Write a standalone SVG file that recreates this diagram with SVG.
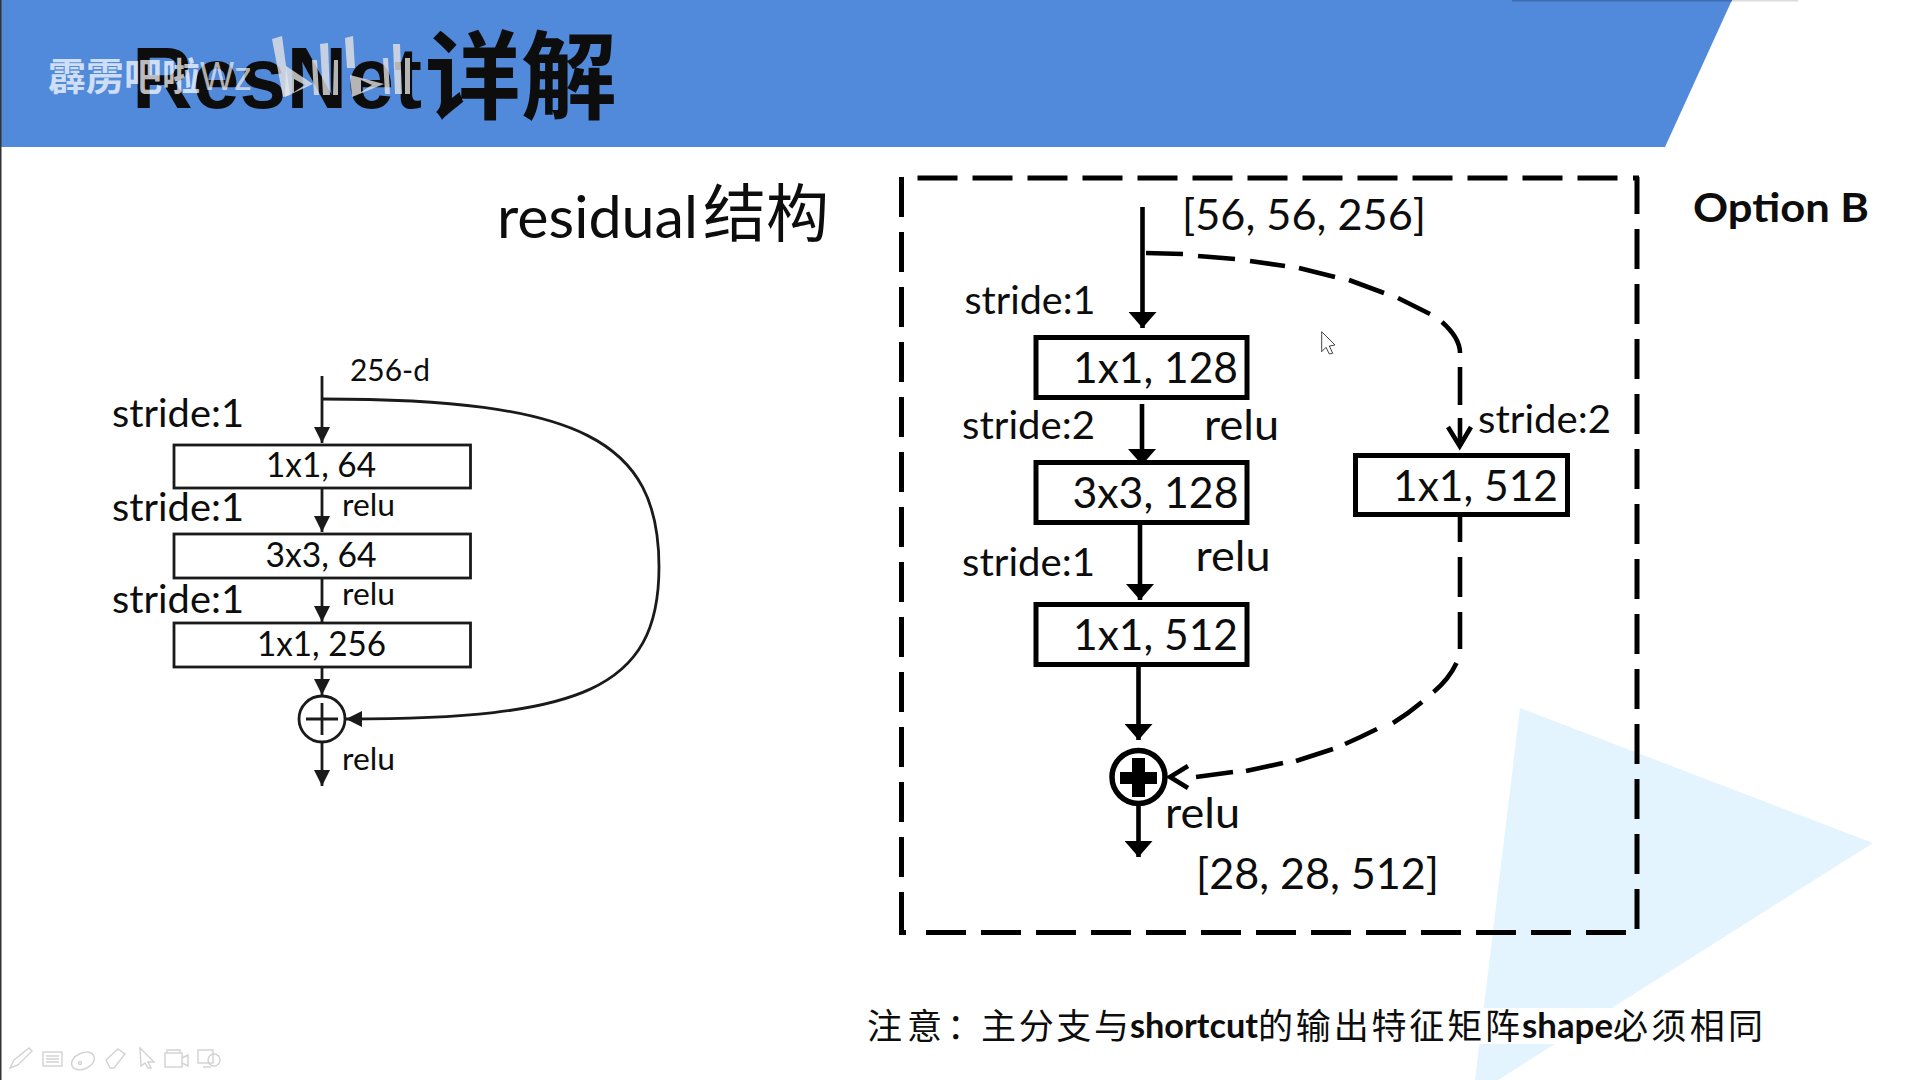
<svg xmlns="http://www.w3.org/2000/svg" width="1920" height="1080" viewBox="0 0 1920 1080">
<defs>
<style>
text{font-family:"Lato","Noto Sans CJK SC",sans-serif;fill:#0d0d0d}
.cjk{font-family:"Noto Sans CJK SC",sans-serif}
.a{font-size:38px}
.lb{font-size:34px}
.lr{font-size:31px}
.b{font-size:42px}
.box1{fill:#fff;stroke:#1a1a1a;stroke-width:2.8}
.box2{fill:#fff;stroke:#000;stroke-width:5}
.l1{fill:none;stroke:#1a1a1a;stroke-width:2.8}
.l2{fill:none;stroke:#000;stroke-width:4.6}
.frame{fill:none;stroke:#000;stroke-width:5;stroke-dasharray:40 15}
.ic{fill:none;stroke:#d2d2d2;stroke-width:1.4}
.logo{fill:#e6e6e6;fill-opacity:.78}
</style>
<marker id="h1" markerUnits="userSpaceOnUse" markerWidth="18" markerHeight="17" refX="16" refY="8" orient="auto"><path d="M0 0L16 8L0 16Z" fill="#1a1a1a"/></marker>
<marker id="h2" markerUnits="userSpaceOnUse" markerWidth="18" markerHeight="28" refX="16" refY="14" orient="auto"><path d="M0 0L16 14L0 28Z" fill="#000"/></marker>
</defs>
<rect width="1920" height="1080" fill="#fff"/>
<g id="background">
<polygon points="1520,708 1873,843 1498,1080 1475,1080" fill="#e3f4fe"/>
<rect x="860" y="1008" width="910" height="36" fill="#fff"/>
<polygon points="0,0 1732,0 1665,147 0,147" fill="#518adb"/>
<rect x="0" width="1.5" height="1080" fill="#333"/>
<rect x="1512" y="0" width="220" height="1.5" fill="#3f6cb0"/>
<rect x="1732" y="0" width="66" height="1.5" fill="#dcdcdc"/>
</g>
<g id="title">
<text x="132" y="108" font-size="88" font-weight="700" textLength="290" lengthAdjust="spacingAndGlyphs" style="font-family:'Liberation Sans',sans-serif">ResNet</text>
<text class="cjk" x="425" y="111" font-size="96" font-weight="700">详解</text>
</g>
<g id="watermark">
<text class="cjk" x="48" y="90" font-size="38" font-weight="700" style="fill:#fff;fill-opacity:.72">霹雳吧啦</text>
<text x="200" y="90" font-size="40" textLength="52" lengthAdjust="spacingAndGlyphs" style="fill:#eee;fill-opacity:.72;font-family:'Liberation Sans',sans-serif">Wz</text>
<path class="logo" d="M272 39L282 36L290 95L283 97Z"/>
<path class="logo" fill-rule="evenodd" d="M286 66L313 84L285 97ZM294 79V92L305 85Z"/>
<path class="logo" d="M312 60H317L319 95H314ZM320 44L328 43L330 95H323ZM334 60H338V95H333Z"/>
<path class="logo" d="M345 38L353 36L355 68H347Z"/>
<path class="logo" fill-rule="evenodd" d="M350 75L384 84L352 97ZM361 80V92L372 85Z"/>
<path class="logo" d="M383 58H388L390 94H385ZM393 44H400L402 94H395ZM405 58H410V94H405Z"/>
</g>
<g id="connectors">
<path class="l1" d="M322 376V443" marker-end="url(#h1)"/>
<path class="l1" d="M322 399C580 399 659 440 659 567C659 690 580 719 346 719" marker-end="url(#h1)"/>
<path class="l1" d="M322 488V532" marker-end="url(#h1)"/>
<path class="l1" d="M322 578V622" marker-end="url(#h1)"/>
<path class="l1" d="M322 667V695" marker-end="url(#h1)"/>
<path class="l1" d="M322 742V786" marker-end="url(#h1)"/>
<path class="l2" d="M1142.500 207V328" marker-end="url(#h2)"/>
<path class="l2" d="M1142 404V465" marker-end="url(#h2)"/>
<path class="l2" d="M1140 525V600" marker-end="url(#h2)"/>
<path class="l2" d="M1138.500 667V740" marker-end="url(#h2)"/>
<path class="l2" d="M1138.500 806V857" marker-end="url(#h2)"/>
<path class="l2" d="M1146 253L1183 254M1198 256L1235 259M1250 261L1285 266M1299 268L1335 277M1349 280L1384 293M1398 298L1430 314M1442 322Q1460 338 1460 353M1460 367V405M1460 418V446"/>
<path class="l2" d="M1448 427L1459.700 446L1471 427"/>
<path class="l2" d="M1460 517V542M1460 557V597M1460 612V649M1456.500 663Q1449 679 1433.600 692M1422 702Q1409 713 1393 723M1377 729Q1361 737 1345 744M1333 749L1296 761M1283 763L1246 771M1233 772L1196 777"/>
<path class="l2" d="M1188 766L1170 777L1188 788"/>
</g>
<g id="left-labels">
<text class="a" x="112" y="427" textLength="132" lengthAdjust="spacingAndGlyphs">stride:1</text>
<text class="a" x="112" y="521" textLength="132" lengthAdjust="spacingAndGlyphs">stride:1</text>
<text class="a" x="112" y="613" textLength="132" lengthAdjust="spacingAndGlyphs">stride:1</text>
<text class="lr" x="350" y="381" textLength="80" lengthAdjust="spacingAndGlyphs">256-d</text>
<text class="lr" x="342" y="516" textLength="53" lengthAdjust="spacingAndGlyphs">relu</text>
<text class="lr" x="342" y="605" textLength="53" lengthAdjust="spacingAndGlyphs">relu</text>
<text class="lr" x="342" y="770" textLength="53" lengthAdjust="spacingAndGlyphs">relu</text>
</g>
<g id="left-box-1"><rect class="box1" x="174" y="445" width="296.500" height="43"/><text class="lb" x="266" y="477" textLength="110" lengthAdjust="spacingAndGlyphs">1x1, 64</text></g>
<g id="left-box-2"><rect class="box1" x="174" y="534" width="296.500" height="44"/><text class="lb" x="265.500" y="567" textLength="111" lengthAdjust="spacingAndGlyphs">3x3, 64</text></g>
<g id="left-box-3"><rect class="box1" x="174" y="623" width="296.500" height="44"/><text class="lb" x="257" y="656" textLength="129" lengthAdjust="spacingAndGlyphs">1x1, 256</text></g>
<g id="left-add"><circle cx="322" cy="719" r="23" fill="#fff" stroke="#1a1a1a" stroke-width="2.8"/><path class="l1" d="M322 703V735M306 719H338"/></g>
<g id="residual-title">
<text x="497" y="238" font-size="58" textLength="201" lengthAdjust="spacingAndGlyphs">residual</text>
<text class="cjk" x="703" y="236" font-size="63" font-weight="400">结构</text>
</g>
<g id="option-frame">
<path class="frame" d="M917.500 178H1620"/>
<path class="frame" d="M901.500 177V932"/>
<path class="frame" d="M1637 177V930" stroke-dashoffset="3"/>
<path class="frame" d="M926 932.500H1627"/>
<path d="M899 932.500H906M1633 178H1639" stroke="#000" stroke-width="5" fill="none"/>
</g>
<g id="right-box-1"><rect class="box2" x="1036" y="337.500" width="211" height="60"/><text class="b" x="1073" y="383" textLength="165" lengthAdjust="spacingAndGlyphs">1x1, 128</text></g>
<g id="right-box-2"><rect class="box2" x="1036" y="462.500" width="211" height="60"/><text class="b" x="1072.500" y="508" textLength="166" lengthAdjust="spacingAndGlyphs">3x3, 128</text></g>
<g id="right-box-3"><rect class="box2" x="1036" y="604.500" width="211" height="60"/><text class="b" x="1073" y="650" textLength="165" lengthAdjust="spacingAndGlyphs">1x1, 512</text></g>
<g id="right-box-side"><rect class="box2" x="1355.500" y="455.500" width="212" height="59"/><text class="b" x="1393" y="501" textLength="165" lengthAdjust="spacingAndGlyphs">1x1, 512</text></g>
<g id="right-add"><circle cx="1138.500" cy="777" r="26.500" fill="#fff" stroke="#000" stroke-width="5.500"/><path fill="#000" d="M1132 758H1145V772H1157V784H1145V797H1132V784H1120V772H1132Z"/></g>
<g id="right-labels">
<text class="b" x="1182" y="230" textLength="244" lengthAdjust="spacingAndGlyphs">[56, 56, 256]</text>
<text class="a" x="964.500" y="314" textLength="131" lengthAdjust="spacingAndGlyphs">stride:1</text>
<text class="a" x="962" y="439" textLength="133" lengthAdjust="spacingAndGlyphs">stride:2</text>
<text class="a" x="962" y="576" textLength="133" lengthAdjust="spacingAndGlyphs">stride:1</text>
<text class="a" x="1478" y="433" textLength="133" lengthAdjust="spacingAndGlyphs">stride:2</text>
<text class="b" x="1204" y="440" textLength="75" lengthAdjust="spacingAndGlyphs">relu</text>
<text class="b" x="1195.500" y="571" textLength="75" lengthAdjust="spacingAndGlyphs">relu</text>
<text class="b" x="1165" y="828" textLength="75" lengthAdjust="spacingAndGlyphs">relu</text>
<text class="b" x="1196" y="889" textLength="243" lengthAdjust="spacingAndGlyphs">[28, 28, 512]</text>
<text x="1693" y="222" font-size="41" font-weight="700" textLength="176" lengthAdjust="spacingAndGlyphs">Option B</text>
</g>
<g id="note">
<text class="cjk" x="867" y="1039" font-size="35" textLength="115" lengthAdjust="spacing">注意：</text>
<text class="cjk" x="981" y="1039" font-size="35" textLength="148" lengthAdjust="spacing">主分支与</text>
<text x="1130" y="1038" font-size="34" font-weight="700" textLength="128" lengthAdjust="spacingAndGlyphs">shortcut</text>
<text class="cjk" x="1258" y="1039" font-size="35" textLength="262" lengthAdjust="spacing">的输出特征矩阵</text>
<text x="1522" y="1038" font-size="34" font-weight="700" textLength="91" lengthAdjust="spacingAndGlyphs">shape</text>
<text class="cjk" x="1613" y="1039" font-size="35" textLength="150" lengthAdjust="spacing">必须相同</text>
</g>
<g id="cursor"><path fill="#fff" stroke="#444" stroke-width="1" d="M1321.700 331.700L1335 345L1329.300 346L1332.700 353.300L1329.300 354L1326 347.300L1321.700 351.700Z"/></g>
<g id="toolbar">
<path class="ic" d="M10 1068L14 1060L29 1048L32 1051L18 1065Z"/>
<rect class="ic" x="43" y="1052" width="19" height="14"/><path class="ic" d="M46 1056H59M46 1059H59M46 1062H59"/>
<ellipse class="ic" cx="83" cy="1061" rx="12" ry="8" transform="rotate(-25 83 1061)"/><circle class="ic" cx="80" cy="1063" r="1.500"/>
<path class="ic" d="M106 1060L118 1049L125 1054L114 1068H110Z"/>
<path class="ic" d="M140 1048L154 1062H148L151 1068H148L145 1063L141 1066Z"/>
<rect class="ic" x="165" y="1053" width="17" height="14"/><path class="ic" d="M167 1053V1050H180V1053M182 1058L188 1055V1066L182 1063"/>
<rect class="ic" x="198" y="1050" width="15" height="13"/><circle class="ic" cx="214" cy="1060" r="6"/><path class="ic" d="M203 1067H211"/>
</g>
</svg>
